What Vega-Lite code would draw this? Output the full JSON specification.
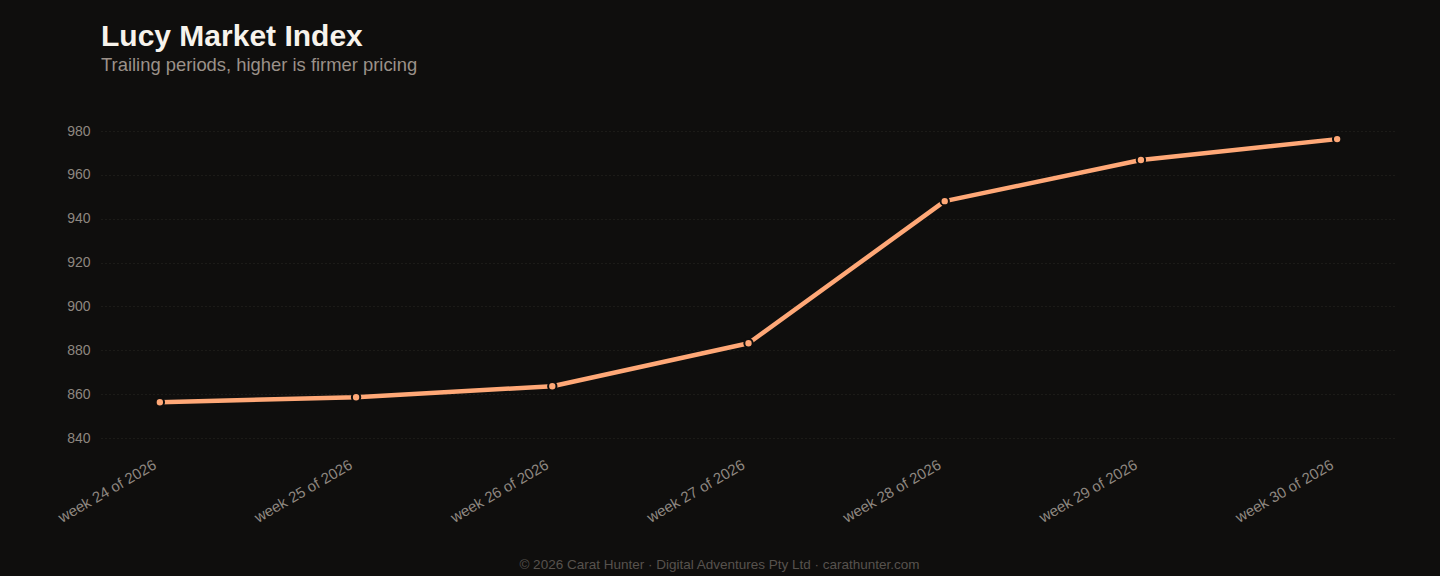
{
  "$schema": "https://vega.github.io/schema/vega-lite/v6.json",
  "width": 1295,
  "height": 307,
  "autosize": {"type": "none"},
  "padding": {"left": 101, "top": 131, "right": 44, "bottom": 138},
  "background": "#0f0e0d",
  "title": {
    "text": "Lucy Market Index",
    "subtitle": "Trailing periods, higher is firmer pricing",
    "anchor": "start",
    "frame": "group",
    "font": "Liberation Sans",
    "fontSize": 30,
    "fontWeight": "bold",
    "color": "#f7f3ec",
    "subtitleFont": "Liberation Sans",
    "subtitleFontSize": 18.4,
    "subtitleColor": "#9b9189",
    "subtitlePadding": 4,
    "offset": 50
  },
  "data": {
    "values": [
      {"period": "week 24 of 2026", "index": 856.3},
      {"period": "week 25 of 2026", "index": 858.6},
      {"period": "week 26 of 2026", "index": 863.6},
      {"period": "week 27 of 2026", "index": 883.2},
      {"period": "week 28 of 2026", "index": 948.0},
      {"period": "week 29 of 2026", "index": 966.8},
      {"period": "week 30 of 2026", "index": 976.3}
    ]
  },
  "config": {
    "view": {"stroke": null},
    "font": "Liberation Sans"
  },
  "encoding": {
    "x": {
      "field": "period",
      "type": "ordinal",
      "sort": null,
      "scale": {"type": "point", "padding": 0.3},
      "axis": {
        "title": "© 2026 Carat Hunter · Digital Adventures Pty Ltd · carathunter.com",
        "titleFont": "Liberation Sans",
        "titleFontSize": 13.5,
        "titleFontWeight": "normal",
        "titleColor": "#57524d",
        "titleX": 618,
        "titleY": 130,
        "titleAlign": "center",
        "titleBaseline": "alphabetic",
        "labelAngle": -30,
        "labelAlign": "right",
        "labelBaseline": "top",
        "labelFontSize": 15,
        "labelColor": "#8e8780",
        "labelPadding": 19,
        "labelOffset": -9,
        "domain": false,
        "ticks": false,
        "grid": false
      }
    },
    "y": {
      "field": "index",
      "type": "quantitative",
      "scale": {"domain": [840, 980], "nice": false, "zero": false},
      "axis": {
        "title": null,
        "values": [840, 860, 880, 900, 920, 940, 960, 980],
        "labelFontSize": 14,
        "labelColor": "#8e8780",
        "labelPadding": 11,
        "domain": false,
        "ticks": false,
        "grid": true,
        "gridColor": "#2b2825",
        "gridDash": [1, 3],
        "gridWidth": 1
      }
    }
  },
  "layer": [
    {
      "mark": {"type": "line", "color": "#ffa877", "strokeWidth": 4.5, "strokeCap": "round", "strokeJoin": "round"}
    },
    {
      "mark": {"type": "point", "filled": true, "fill": "#ffa877", "stroke": "#0f0e0d", "strokeWidth": 2, "size": 70, "opacity": 1}
    }
  ]
}
